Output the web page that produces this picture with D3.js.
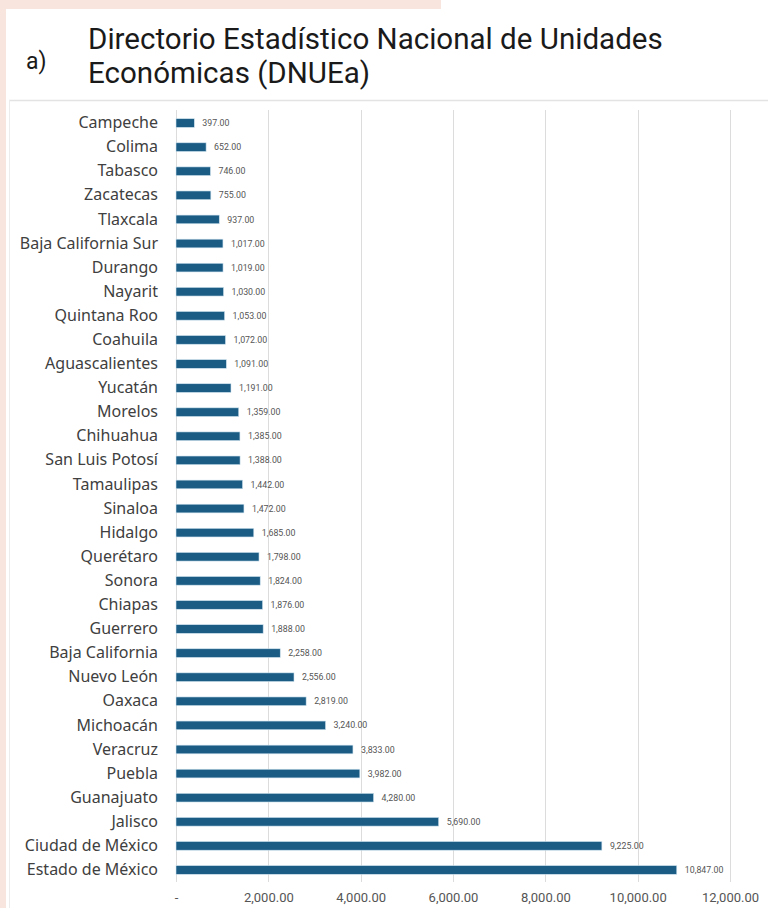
<!DOCTYPE html>
<html>
<head>
<meta charset="utf-8">
<script src="https://cdn.jsdelivr.net/npm/d3@7/dist/d3.min.js"></script>
<style>
  html, body { margin: 0; padding: 0; background: #ffffff; }
  svg { display: block; }
</style>
</head>
<body>
<svg id="chart" width="768" height="908"></svg>
<script>
const states = ["Campeche","Colima","Tabasco","Zacatecas","Tlaxcala","Baja California Sur","Durango","Nayarit","Quintana Roo","Coahuila","Aguascalientes","Yucatán","Morelos","Chihuahua","San Luis Potosí","Tamaulipas","Sinaloa","Hidalgo","Querétaro","Sonora","Chiapas","Guerrero","Baja California","Nuevo León","Oaxaca","Michoacán","Veracruz","Puebla","Guanajuato","Jalisco","Ciudad de México","Estado de México"];
const units = [397,652,746,755,937,1017,1019,1030,1053,1072,1091,1191,1359,1385,1388,1442,1472,1685,1798,1824,1876,1888,2258,2556,2819,3240,3833,3982,4280,5690,9225,10847];
const xTicks = [0,2000,4000,6000,8000,10000,12000];
const titleLines = ["Directorio Estadístico Nacional de Unidades","Económicas (DNUEa)"];
const panelLabel = "a)";

const svg = d3.select("#chart");
const W = 768, H = 908;

svg.append("rect").attr("x",0).attr("y",0).attr("width",W).attr("height",H).attr("fill","#ffffff");
svg.append("rect").attr("x",0).attr("y",0).attr("width",441).attr("height",9).attr("fill","#f8e5dd");
svg.append("rect").attr("x",0).attr("y",0).attr("width",6).attr("height",H).attr("fill","#f8e5dd");

svg.append("line").attr("x1",9).attr("x2",W).attr("y1",100.5).attr("y2",100.5).attr("stroke","#e3e3e3").attr("stroke-width",1.5);
svg.append("line").attr("x1",9.5).attr("x2",9.5).attr("y1",100).attr("y2",H).attr("stroke","#ececec").attr("stroke-width",1);

svg.append("text").attr("x",26).attr("y",69).text(panelLabel)
  .attr("font-family","Roboto, 'Liberation Sans', sans-serif").attr("font-size",23).attr("fill","#1a1a1a");
const tt = svg.append("g").selectAll("text").data(titleLines).join("text")
  .attr("x",88).attr("y",(d,i)=>49+i*34).text(d=>d)
  .attr("font-family","Roboto, 'Liberation Sans', sans-serif").attr("font-size",29).attr("fill","#1a1a1a");
const w0 = tt.nodes()[0].getComputedTextLength();
tt.attr("font-size", 29 * 575 / w0);

const x = d3.scaleLinear().domain([0,12000]).range([176,730]);
const y = d3.scaleBand().domain(states).range([111,882]).paddingInner(0.64).paddingOuter(0.32);

svg.append("g").selectAll("line").data(xTicks).join("line")
  .attr("x1",d=>Math.round(x(d))+0.5).attr("x2",d=>Math.round(x(d))+0.5)
  .attr("y1",110).attr("y2",882)
  .attr("stroke","#dcdcdc").attr("stroke-width",1);

const xAxis = d3.axisBottom(x).tickValues(xTicks).tickSize(0)
  .tickFormat(d => d === 0 ? "-" : d3.format(",.2f")(d));
const gx = svg.append("g").attr("transform","translate(0,890)").call(xAxis);
gx.select(".domain").remove();
gx.selectAll("text").attr("font-family","Roboto, 'Liberation Sans', sans-serif").attr("font-size",13).attr("fill","#555555");

const yAxis = d3.axisLeft(y).tickSize(0).tickPadding(0);
const gy = svg.append("g").attr("transform","translate(158,0)").call(yAxis);
gy.select(".domain").remove();
gy.selectAll("text").attr("font-family","'Noto Sans', 'Open Sans', sans-serif").attr("font-size",16).attr("fill","#404040");

svg.append("g").selectAll("rect").data(states).join("rect")
  .attr("x",x(0)).attr("y",d=>y(d))
  .attr("width",(d,i)=>x(units[i])-x(0)).attr("height",y.bandwidth())
  .attr("fill","#1b5c85").attr("stroke","#cfe3ef").attr("stroke-width",0.6);

svg.append("g").selectAll("text").data(states).join("text")
  .attr("x",(d,i)=>x(units[i])+8).attr("y",d=>y(d)+y.bandwidth()/2)
  .attr("dy","0.35em")
  .text((d,i)=>d3.format(",.2f")(units[i]))
  .attr("font-family","Roboto, 'Liberation Sans', sans-serif").attr("font-size",8.8).attr("fill","#555555");
</script>
</body>
</html>
